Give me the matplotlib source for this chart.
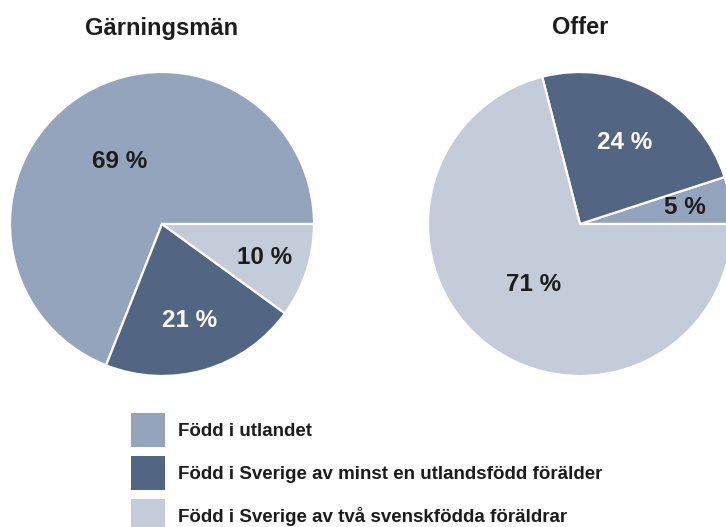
import matplotlib
matplotlib.use("Agg")
import matplotlib.pyplot as plt
from matplotlib.patches import Patch
import numpy as np

plt.rcParams["font.family"] = ["Liberation Sans", "DejaVu Sans"]
plt.rcParams["font.weight"] = "bold"

CATEGORIES = [
    "Född i utlandet",
    "Född i Sverige av minst en utlandsfödd förälder",
    "Född i Sverige av två svenskfödda föräldrar",
]
COLORS = ["#94a4bd", "#526684", "#c4ccda"]

PERPETRATORS = [69, 21, 10]
VICTIMS = [5, 24, 71]
TITLES = ["Gärningsmän", "Offer"]

W, H = 726, 527
TEXT = "#1c1c1c"


def px_axes(fig, x, y, w, h):
    # pixel box measured from the top left corner
    return fig.add_axes([x / W, 1 - (y + h) / H, w / W, h / H])


def draw_pie(ax, values, title, dists):
    wedges, _ = ax.pie(values, colors=COLORS, startangle=0, counterclock=True,
                       radius=1.0,
                       wedgeprops=dict(edgecolor="white", linewidth=1.6))
    for i, (w, v, d) in enumerate(zip(wedges, values, dists)):
        mid = np.deg2rad((w.theta1 + w.theta2) / 2)
        col = "white" if i == 1 else TEXT
        ax.text(d * np.cos(mid), d * np.sin(mid), f"{v} %", ha="center",
                va="center", fontsize=17.5, fontweight="bold", color=col)
    ax.set_xlim(-1, 1)
    ax.set_ylim(-1, 1)
    ax.set_aspect("equal")
    ax.set_title(title, fontsize=17, fontweight="bold", color=TEXT, pad=27)


fig = plt.figure(figsize=(W / 100, H / 100), dpi=100)

ax1 = px_axes(fig, 10, 72, 304, 304)
draw_pie(ax1, PERPETRATORS, TITLES[0], [0.5, 0.66, 0.71])

ax2 = px_axes(fig, 428, 72, 304, 304)
draw_pie(ax2, VICTIMS, TITLES[1], [0.70, 0.61, 0.5])

fs = 13.5
handles = [Patch(facecolor=c, edgecolor="none") for c in COLORS]
fig.legend(handles, CATEGORIES, loc="upper left",
           bbox_to_anchor=(131 / W, 1 - 413 / H), frameon=False,
           prop=dict(weight="bold", size=fs),
           handlelength=24.5 / fs, handleheight=(24.5 / fs - 0.245) / 0.65,
           labelspacing=6.5 / fs,
           handletextpad=9.5 / fs, borderpad=0, borderaxespad=0,
           labelcolor=TEXT)

fig.savefig("out.png", dpi=100)
